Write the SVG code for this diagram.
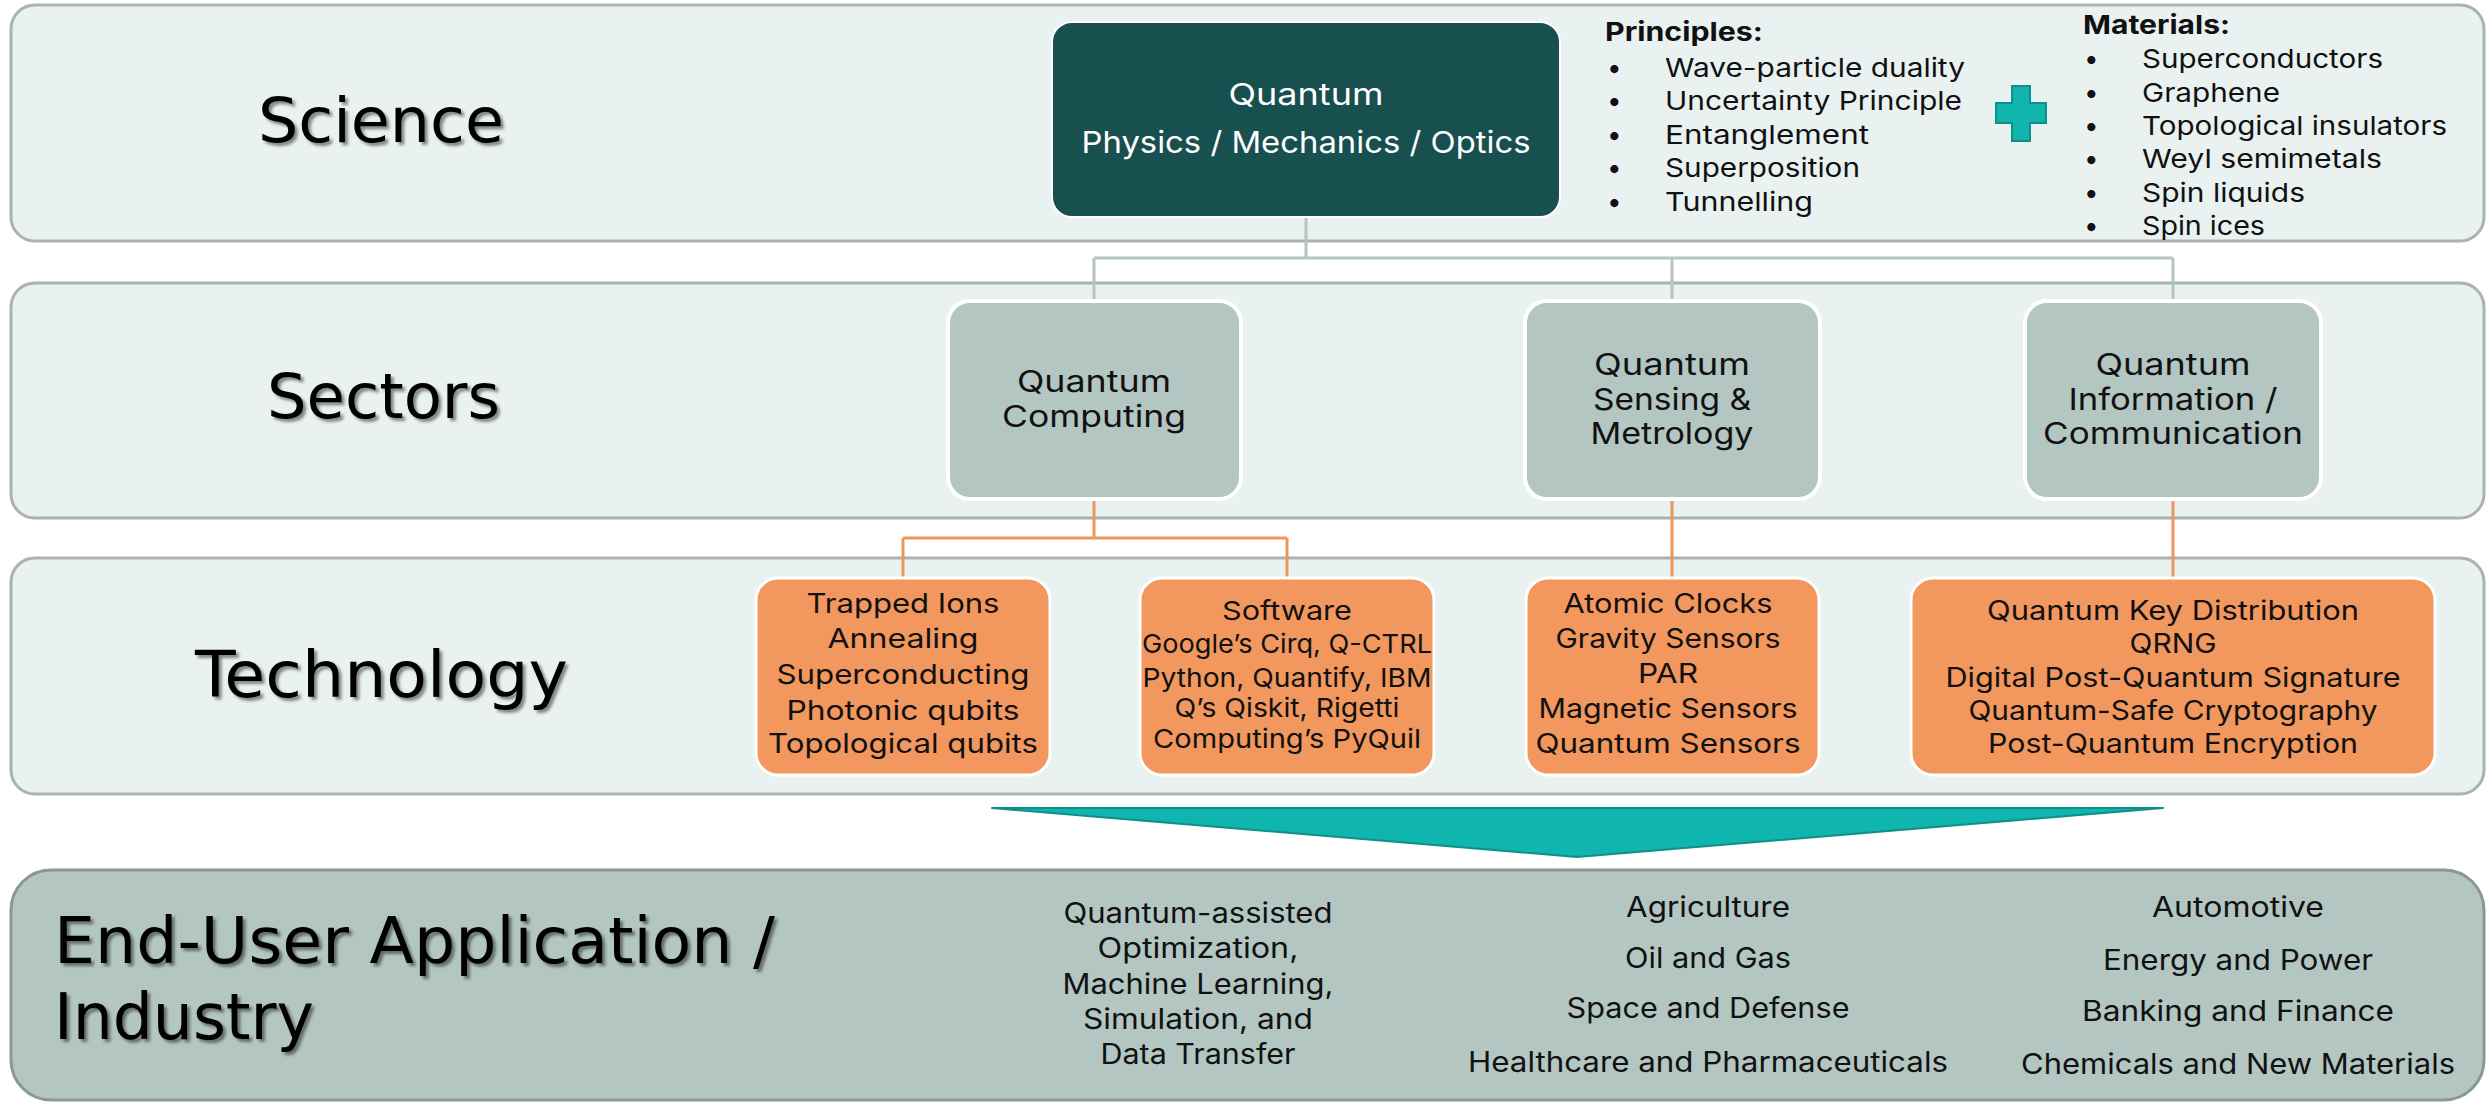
<svg xmlns="http://www.w3.org/2000/svg" width="2489" height="1102" viewBox="0 0 2489 1102">
  <defs>
    <filter id="shadow" x="-10%" y="-20%" width="130%" height="160%">
      <feDropShadow dx="3" dy="3" stdDeviation="1.6" flood-color="#000" flood-opacity="0.45"/>
    </filter>
  </defs>
  <style>
    .band { fill: #EAF2F1; stroke: #A9B3B1; stroke-width: 3; }
    .band-app { fill: #B3C6C2; stroke: #889893; stroke-width: 3; }
    .label { font-family: "DejaVu Sans", "Liberation Sans", sans-serif; fill: #000; filter: url(#shadow); }
    .core { fill: #18504F; stroke: #ffffff; stroke-width: 2; }
    .sector { fill: #B3C6C2; stroke: #ffffff; stroke-width: 4; }
    .tech { fill: #F2975E; stroke: #ffffff; stroke-width: 3; }
    .t { font-family: "Inter", "DejaVu Sans", sans-serif; fill: #111; }
    .c { text-anchor: middle; }
    .w { fill: #ffffff; }
    .b { font-weight: 700; }
    .gray-link { fill: none; stroke: #B3C6C2; stroke-width: 3; }
    .orange-link { fill: none; stroke: #F0955B; stroke-width: 3; }
  </style>

  <!-- layer bands -->
  <g id="bands">
    <rect class="band" x="11" y="5" width="2473" height="236" rx="24"/>
    <rect class="band" x="11" y="283" width="2473" height="235" rx="24"/>
    <rect class="band" x="11" y="558" width="2473" height="236" rx="24"/>
    <rect class="band-app" x="11" y="870" width="2473" height="230" rx="40"/>
  </g>

  <!-- layer titles -->
  <g id="layer-labels" lengthAdjust="spacingAndGlyphs">
    <text class="label" x="258" y="142" font-size="62" textLength="246" lengthAdjust="spacingAndGlyphs">Science</text>
    <text class="label" x="267" y="418" font-size="62" textLength="233" lengthAdjust="spacingAndGlyphs">Sectors</text>
    <text class="label" x="195" y="697" font-size="64" textLength="373" lengthAdjust="spacingAndGlyphs">Technology</text>
    <text class="label" x="54" y="963" font-size="64" textLength="721" lengthAdjust="spacingAndGlyphs">End-User Application /</text>
    <text class="label" x="54" y="1039" font-size="64" textLength="260" lengthAdjust="spacingAndGlyphs">Industry</text>
  </g>

  <!-- connectors -->
  <g id="connectors">
    <path class="gray-link" d="M1306 217 V258 M1094 258 H2173 M1094 258 V301 M1672 258 V301 M2173 258 V301"/>
    <path class="orange-link" d="M1094 499 V538 M903 538 H1287 M903 538 V578 M1287 538 V578 M1672 499 V578 M2173 499 V578"/>
  </g>

  <!-- science core -->
  <g id="node-quantum-core">
    <rect class="core" x="1052" y="22" width="508" height="195" rx="20"/>
    <text class="t c w" x="1306" y="105" font-size="30" textLength="155" lengthAdjust="spacingAndGlyphs">Quantum</text>
    <text class="t c w" x="1306" y="153" font-size="30" textLength="449" lengthAdjust="spacingAndGlyphs">Physics / Mechanics / Optics</text>
  </g>

  <g id="node-principles">
    <text class="t b" x="1605" y="41" font-size="26" textLength="158" lengthAdjust="spacingAndGlyphs">Principles:</text>
    <g font-size="26">
      <text class="t" x="1607" y="77">•</text><text class="t" x="1665" y="77" textLength="300" lengthAdjust="spacingAndGlyphs">Wave-particle duality</text>
      <text class="t" x="1607" y="110">•</text><text class="t" x="1665" y="110" textLength="297" lengthAdjust="spacingAndGlyphs">Uncertainty Principle</text>
      <text class="t" x="1607" y="144">•</text><text class="t" x="1665" y="144" textLength="204" lengthAdjust="spacingAndGlyphs">Entanglement</text>
      <text class="t" x="1607" y="177">•</text><text class="t" x="1665" y="177" textLength="195" lengthAdjust="spacingAndGlyphs">Superposition</text>
      <text class="t" x="1607" y="211">•</text><text class="t" x="1665" y="211" textLength="148" lengthAdjust="spacingAndGlyphs">Tunnelling</text>
    </g>
  </g>

  <g id="plus-sign">
    <polygon points="2012,86 2030,86 2030,103 2046,103 2046,123 2030,123 2030,141 2012,141 2012,123 1996,123 1996,103 2012,103" fill="#10B5AE" stroke="#0E8F88" stroke-width="2"/>
  </g>

  <g id="node-materials">
    <text class="t b" x="2083" y="34" font-size="26" textLength="147" lengthAdjust="spacingAndGlyphs">Materials:</text>
    <g font-size="26">
      <text class="t" x="2084" y="68">•</text><text class="t" x="2142" y="68" textLength="241" lengthAdjust="spacingAndGlyphs">Superconductors</text>
      <text class="t" x="2084" y="102">•</text><text class="t" x="2142" y="102" textLength="138" lengthAdjust="spacingAndGlyphs">Graphene</text>
      <text class="t" x="2084" y="135">•</text><text class="t" x="2142" y="135" textLength="305" lengthAdjust="spacingAndGlyphs">Topological insulators</text>
      <text class="t" x="2084" y="168">•</text><text class="t" x="2142" y="168" textLength="240" lengthAdjust="spacingAndGlyphs">Weyl semimetals</text>
      <text class="t" x="2084" y="202">•</text><text class="t" x="2142" y="202" textLength="163" lengthAdjust="spacingAndGlyphs">Spin liquids</text>
      <text class="t" x="2084" y="235">•</text><text class="t" x="2142" y="235" textLength="123" lengthAdjust="spacingAndGlyphs">Spin ices</text>
    </g>
  </g>

  <!-- sectors -->
  <g id="node-computing">
    <rect class="sector" x="948" y="301" width="293" height="198" rx="22"/>
    <text class="t c" x="1094" y="392" font-size="30" textLength="154" lengthAdjust="spacingAndGlyphs">Quantum</text>
    <text class="t c" x="1094" y="427" font-size="30" textLength="184" lengthAdjust="spacingAndGlyphs">Computing</text>
  </g>
  <g id="node-sensing">
    <rect class="sector" x="1525" y="301" width="295" height="198" rx="22"/>
    <text class="t c" x="1672" y="375" font-size="30" textLength="156" lengthAdjust="spacingAndGlyphs">Quantum</text>
    <text class="t c" x="1672" y="410" font-size="30" textLength="158" lengthAdjust="spacingAndGlyphs">Sensing &amp;</text>
    <text class="t c" x="1672" y="444" font-size="30" textLength="163" lengthAdjust="spacingAndGlyphs">Metrology</text>
  </g>
  <g id="node-information">
    <rect class="sector" x="2025" y="301" width="296" height="198" rx="22"/>
    <text class="t c" x="2173" y="375" font-size="30" textLength="155" lengthAdjust="spacingAndGlyphs">Quantum</text>
    <text class="t c" x="2173" y="410" font-size="30" textLength="209" lengthAdjust="spacingAndGlyphs">Information /</text>
    <text class="t c" x="2173" y="444" font-size="30" textLength="260" lengthAdjust="spacingAndGlyphs">Communication</text>
  </g>

  <!-- technologies -->
  <g id="node-hardware" font-size="27">
    <rect class="tech" x="756" y="578" width="294" height="197" rx="22"/>
    <text class="t c" x="903" y="613" textLength="193" lengthAdjust="spacingAndGlyphs">Trapped Ions</text>
    <text class="t c" x="903" y="648" textLength="151" lengthAdjust="spacingAndGlyphs">Annealing</text>
    <text class="t c" x="903" y="684" textLength="253" lengthAdjust="spacingAndGlyphs">Superconducting</text>
    <text class="t c" x="903" y="720" textLength="233" lengthAdjust="spacingAndGlyphs">Photonic qubits</text>
    <text class="t c" x="903" y="753" textLength="270" lengthAdjust="spacingAndGlyphs">Topological qubits</text>
  </g>
  <g id="node-software" font-size="26">
    <rect class="tech" x="1140" y="578" width="294" height="197" rx="22"/>
    <text class="t c" x="1287" y="620" textLength="130" lengthAdjust="spacingAndGlyphs">Software</text>
    <text class="t c" x="1287" y="653" textLength="290" lengthAdjust="spacingAndGlyphs">Google’s Cirq, Q-CTRL</text>
    <text class="t c" x="1287" y="687" textLength="289" lengthAdjust="spacingAndGlyphs">Python, Quantify, IBM</text>
    <text class="t c" x="1287" y="717" textLength="225" lengthAdjust="spacingAndGlyphs">Q’s Qiskit, Rigetti</text>
    <text class="t c" x="1287" y="748" textLength="268" lengthAdjust="spacingAndGlyphs">Computing’s PyQuil</text>
  </g>
  <g id="node-sensors" font-size="27">
    <rect class="tech" x="1526" y="578" width="293" height="197" rx="22"/>
    <text class="t c" x="1668" y="613" textLength="209" lengthAdjust="spacingAndGlyphs">Atomic Clocks</text>
    <text class="t c" x="1668" y="648" textLength="225" lengthAdjust="spacingAndGlyphs">Gravity Sensors</text>
    <text class="t c" x="1668" y="683" textLength="60" lengthAdjust="spacingAndGlyphs">PAR</text>
    <text class="t c" x="1668" y="718" textLength="259" lengthAdjust="spacingAndGlyphs">Magnetic Sensors</text>
    <text class="t c" x="1668" y="753" textLength="265" lengthAdjust="spacingAndGlyphs">Quantum Sensors</text>
  </g>
  <g id="node-security" font-size="27">
    <rect class="tech" x="1911" y="578" width="524" height="197" rx="22"/>
    <text class="t c" x="2173" y="620" textLength="372" lengthAdjust="spacingAndGlyphs">Quantum Key Distribution</text>
    <text class="t c" x="2173" y="653" textLength="87" lengthAdjust="spacingAndGlyphs">QRNG</text>
    <text class="t c" x="2173" y="687" textLength="455" lengthAdjust="spacingAndGlyphs">Digital Post-Quantum Signature</text>
    <text class="t c" x="2173" y="720" textLength="409" lengthAdjust="spacingAndGlyphs">Quantum-Safe Cryptography</text>
    <text class="t c" x="2173" y="753" textLength="370" lengthAdjust="spacingAndGlyphs">Post-Quantum Encryption</text>
  </g>

  <!-- flow towards applications -->
  <g id="flow-arrow">
    <polygon points="992,808 2163,808 1577,857" fill="#10B5AE" stroke="#0E8F88" stroke-width="2" stroke-linejoin="round"/>
  </g>

  <!-- applications -->
  <g id="node-applications" font-size="28">
    <text class="t c" x="1198" y="923" textLength="269" lengthAdjust="spacingAndGlyphs">Quantum-assisted</text>
    <text class="t c" x="1198" y="958" textLength="201" lengthAdjust="spacingAndGlyphs">Optimization,</text>
    <text class="t c" x="1198" y="994" textLength="271" lengthAdjust="spacingAndGlyphs">Machine Learning,</text>
    <text class="t c" x="1198" y="1029" textLength="230" lengthAdjust="spacingAndGlyphs">Simulation, and</text>
    <text class="t c" x="1198" y="1064" textLength="195" lengthAdjust="spacingAndGlyphs">Data Transfer</text>
  </g>
  <g id="node-industries-a" font-size="28">
    <text class="t c" x="1708" y="917" textLength="164" lengthAdjust="spacingAndGlyphs">Agriculture</text>
    <text class="t c" x="1708" y="968" textLength="166" lengthAdjust="spacingAndGlyphs">Oil and Gas</text>
    <text class="t c" x="1708" y="1018" textLength="283" lengthAdjust="spacingAndGlyphs">Space and Defense</text>
    <text class="t c" x="1708" y="1072" textLength="480" lengthAdjust="spacingAndGlyphs">Healthcare and Pharmaceuticals</text>
  </g>
  <g id="node-industries-b" font-size="28">
    <text class="t c" x="2238" y="917" textLength="172" lengthAdjust="spacingAndGlyphs">Automotive</text>
    <text class="t c" x="2238" y="970" textLength="270" lengthAdjust="spacingAndGlyphs">Energy and Power</text>
    <text class="t c" x="2238" y="1021" textLength="312" lengthAdjust="spacingAndGlyphs">Banking and Finance</text>
    <text class="t c" x="2238" y="1074" textLength="434" lengthAdjust="spacingAndGlyphs">Chemicals and New Materials</text>
  </g>
</svg>
